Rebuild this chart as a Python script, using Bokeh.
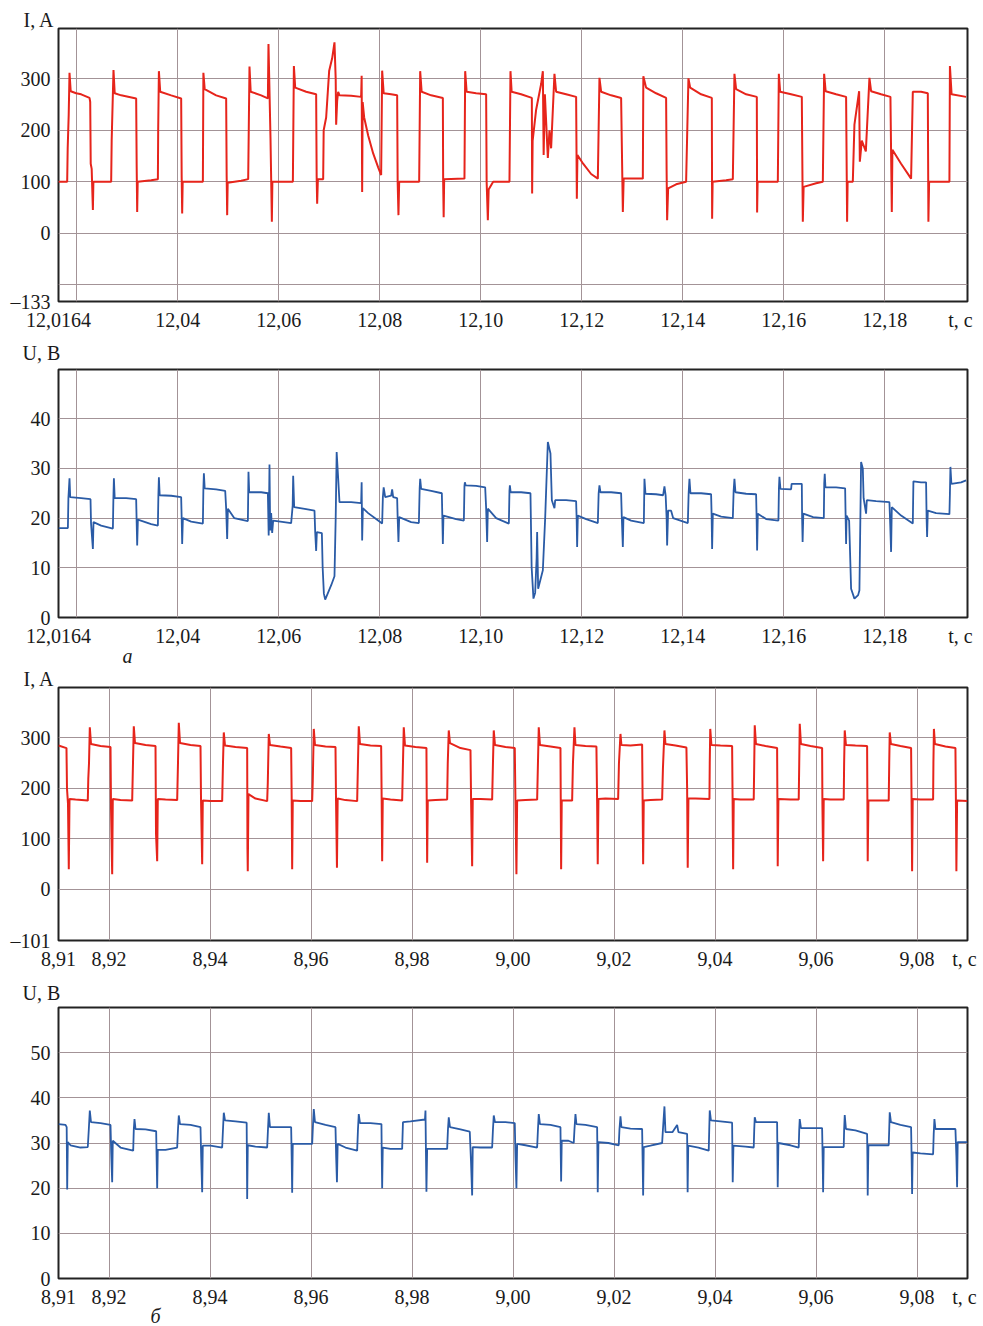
from bokeh.plotting import figure
from bokeh.layouts import column
from bokeh.models import FixedTicker, Range1d, Title
from bokeh.embed import file_html
from bokeh.resources import INLINE

FONT = "Liberation Serif"
RED = "#e6241b"
BLUE = "#2a5ba6"
GRID = "#a39397"

# ---------------- panel а: t from 12.0164 s (offsets in ms) ----------------
T0_A = 12.0164
x_ticks_a = [12.0164, 12.04, 12.06, 12.08, 12.10, 12.12, 12.14, 12.16, 12.18, 12.1950]
x_labels_a = ["12,0164", "12,04", "12,06", "12,08", "12,10", "12,12", "12,14", "12,16", "12,18", "t, c"]
x_grid_a = [12.02, 12.04, 12.06, 12.08, 12.10, 12.12, 12.14, 12.16, 12.18]

i_a_ms = [0, 1.72, 1.82, 2.02, 2.18, 2.42, 3.50, 4.49, 6.14, 6.28, 6.38, 6.57, 6.81, 6.91, 8.45,
          10.43, 10.53, 10.89, 11.13, 12.41, 15.38, 15.48, 15.58, 15.68, 18.35,
          19.68, 19.74, 19.88, 20.14, 22.31, 24.29, 24.39, 24.49, 24.59,
          28.59, 28.69, 28.95, 31.22, 33.20, 33.30, 33.40, 33.50, 36.17,
          37.56, 37.82, 38.06, 40.13, 41.46, 41.58, 41.98, 42.25, 42.35,
          46.41, 46.61, 46.87, 49.04, 51.02, 51.12, 51.22, 51.36, 52.41,
          52.51, 53.00, 53.60, 54.19, 54.65, 54.89, 54.98, 55.18, 55.38, 55.64, 57.95, 59.93,
          60.03, 60.13, 60.23, 60.53, 61.32, 62.31, 63.30, 63.89,
          64.09, 64.39, 65.87, 67.06, 67.16, 67.32, 67.46, 71.42,
          71.62, 71.91, 73.79, 76.11, 76.17, 76.27, 76.37, 80.39,
          80.53, 80.82, 82.70, 84.68, 84.78, 85.02, 85.18, 86.07, 89.30,
          89.50, 89.73, 91.61, 93.73, 93.79, 93.89, 94.58, 95.57, 95.91, 96.07, 96.31, 96.90, 97.22, 97.55,
          98.21, 98.54, 100.52, 102.50, 102.64, 102.76, 103.89, 105.47, 106.80,
          107.12, 107.45, 109.43, 111.41, 111.75, 111.91, 115.71,
          115.81, 116.36, 118.34, 120.32, 120.42, 120.52, 120.72, 122.30, 124.28,
          124.74, 125.08, 127.25, 129.37, 129.43, 129.53, 132.20,
          133.53, 133.85, 134.18, 136.16, 138.28, 138.34, 138.44, 142.44,
          142.64, 142.90, 145.07, 147.19, 147.39, 147.55, 150.02, 151.35,
          151.61, 151.91, 153.98, 155.96, 156.16, 156.26, 157.29,
          157.61, 158.54, 158.68, 159.07, 159.87, 160.58, 160.91, 162.89, 164.74,
          165.01, 165.13, 166.85, 168.83, 169.17, 170.81, 172.14, 172.26, 172.40, 176.42,
          176.52, 176.85, 179.72]
i_a_amp = [100, 100, 165, 230, 312, 276, 272, 270, 263, 255, 135, 125, 45, 100, 100,
           100, 180, 317, 272, 268, 262, 130, 41, 100, 103,
           105, 200, 315, 275, 268, 262, 110, 38, 100,
           100, 312, 280, 268, 262, 110, 35, 98, 102,
           105, 324, 275, 268, 262, 368, 185, 22, 100,
           100, 325, 283, 275, 270, 110, 57, 105, 105,
           200, 225, 316, 340, 371, 300, 211, 257, 275, 268, 267, 265,
           306, 80, 255, 225, 190, 155, 128, 113,
           316, 272, 270, 268, 100, 35, 100, 100,
           315, 275, 268, 263, 100, 31, 105, 106,
           315, 275, 272, 270, 100, 25, 85, 100, 100,
           315, 275, 270, 263, 77, 180, 240, 290, 315, 152, 270, 146, 200, 165,
           310, 275, 270, 265, 67, 152, 135, 115, 106,
           302, 275, 268, 263, 41, 106, 106,
           305, 283, 272, 263, 120, 25, 87, 95, 100,
           301, 283, 270, 263, 28, 100, 103,
           105, 310, 280, 270, 265, 40, 100, 100,
           310, 275, 270, 265, 22, 90, 97, 100,
           310, 276, 270, 265, 22, 100, 100,
           211, 276, 139, 180, 159, 302, 276, 270, 265,
           41, 162, 135, 106, 275, 275, 272, 22, 100, 100,
           325, 270, 265]

u_a_ms = [0, 1.86, 1.96, 2.18, 2.32, 4.49, 6.34, 6.44, 6.81, 6.93, 8.45,
          10.77, 10.87, 10.97, 11.13, 13.40, 15.38, 15.48, 15.58, 15.72, 18.35,
          19.68, 19.78, 19.88, 20.04, 22.31, 24.29, 24.39, 24.49, 24.63, 26.27,
          28.59, 28.69, 28.79, 28.95, 31.22, 33.01, 33.20, 33.40, 33.54, 34.79,
          37.50, 37.62, 37.76, 40.13, 41.46, 41.62, 41.78, 41.92, 42.11, 42.31, 42.51,
          46.07, 46.37, 46.47, 46.67, 49.04, 50.69, 50.83, 51.02, 51.16, 52.15,
          52.31, 52.55, 52.81, 54.00, 54.65, 54.89, 55.08, 55.38, 55.64, 57.95,
          59.93, 60.03, 60.13, 60.27, 61.32, 62.90, 64.09,
          64.23, 64.39, 64.69, 65.87, 66.07, 66.27, 67.06, 67.16, 67.32, 67.46, 69.83,
          71.36, 71.52, 71.62, 71.81, 73.79, 75.91, 76.01, 76.11, 76.23, 78.74,
          80.27, 80.39, 80.47, 80.63, 82.70, 84.49, 84.68, 84.88, 85.02, 86.66,
          89.18, 89.30, 89.38, 89.54, 91.61, 93.46, 93.69, 94.05, 94.39, 94.68, 94.78, 94.98, 95.91, 96.37,
          96.90, 97.42, 97.69, 98.21, 98.35,
          100.52, 102.50, 102.60, 102.70, 102.84, 104.48,
          106.80, 106.96, 107.12, 107.32, 109.43, 111.41, 111.55, 111.75, 111.87, 113.39,
          115.91, 116.03, 116.23, 118.34, 119.73, 119.99, 120.23, 120.42, 120.52, 120.72, 121.31, 121.71,
          124.62, 124.78, 124.94, 125.14, 127.25, 129.23, 129.33, 129.43, 129.57, 131.21,
          133.53, 133.69, 133.85, 134.05, 136.16, 138.14, 138.24, 138.34, 138.48, 140.12,
          142.56, 142.66, 142.76, 142.96, 145.07, 145.17, 147.19, 147.25, 147.35, 147.49, 149.43,
          151.55, 151.63, 151.73, 151.87, 153.98, 155.77, 155.87, 155.96, 156.06, 156.56,
          156.95, 157.61, 158.34, 158.60, 158.93, 159.27, 159.43, 159.92, 160.06, 161.90, 164.54,
          164.72, 164.87, 165.01, 166.85, 169.17, 169.29, 170.81, 171.80, 171.90, 172.00, 172.14, 173.78,
          176.42, 176.52, 176.62, 176.81, 178.73, 179.72]
u_a_volt = [18, 18, 24, 28, 24.2, 24, 23.8, 19, 13.8, 19.2, 18.5,
            17.9, 24, 28, 24, 24, 23.8, 19, 14.5, 19.7, 18.8,
            18.5, 24.6, 28.2, 24.6, 24.5, 24.2, 20, 14.8, 20, 19.3,
            18.9, 25.9, 29, 26, 25.8, 25.5, 21.9, 15.8, 21.9, 20,
            19.4, 29.3, 25.2, 25.2, 25, 16.5, 30.8, 17.5, 21, 17, 19.5,
            19, 22.5, 28.5, 22.2, 21.8, 21.5, 17.2, 13.4, 17.2, 17,
            10, 4.8, 3.6, 6.5, 8.3, 20, 33.3, 28, 23.2, 23.2,
            23, 27.2, 15.5, 22, 21, 19.8, 18.9,
            24.2, 26.2, 24.2, 24.5, 25.8, 24.2, 24, 20, 15.2, 20.2, 19.2,
            19, 26, 27.9, 25.9, 25.5, 25, 20, 14.8, 20.5, 19.8,
            19.5, 26.5, 27.2, 26.6, 26.5, 26.2, 22, 15.2, 21.9, 20,
            18.9, 25.5, 26.6, 25.2, 25.2, 25, 10.1, 3.8, 5, 12, 17.2, 5.8, 9.5, 20,
            35.3, 33, 23.6, 22, 23.6,
            23.6, 23.4, 20, 14.2, 20.5, 19.8,
            19, 25, 26.6, 25.2, 25.2, 25, 20, 14.2, 20.2, 19.5,
            19, 27.9, 24.9, 24.8, 24.6, 26.4, 24.5, 20, 14.5, 21.5, 21.5, 20,
            19, 25, 27.9, 25, 25, 24.8, 20.5, 13.8, 20.9, 20.3,
            20, 25.5, 27.9, 25.2, 24.9, 24.8, 20, 13.5, 20.9, 19.8,
            19.5, 26, 28.3, 25.9, 25.8, 26.9, 26.9, 20, 15.2, 20.9, 20.2,
            20, 27, 28.9, 26.2, 26.2, 26, 20, 14.8, 20.5, 19.5,
            5.8, 3.8, 4.5, 5.5, 31.3, 30, 24, 20.9, 23.6, 23.4, 23.2,
            18, 13.2, 22.2, 20.5, 18.9, 27.4, 27.2, 27.2, 20, 16.2, 21.5, 21,
            20.8, 25, 30.3, 26.9, 27.2, 27.6]

# ---------------- panel б: t from 8.91 s (offsets in ms) ----------------
T0_B = 8.91
x_ticks_b = [8.91, 8.92, 8.94, 8.96, 8.98, 9.00, 9.02, 9.04, 9.06, 9.08, 9.0894]
x_labels_b = ["8,91", "8,92", "8,94", "8,96", "8,98", "9,00", "9,02", "9,04", "9,06", "9,08", "t, c"]
x_grid_b = [8.92, 8.94, 8.96, 8.98, 9.00, 9.02, 9.04, 9.06, 9.08]

i_b_ms = [0, 1.58, 1.68, 1.88, 2.04, 2.18, 3.37, 5.80,
          5.90, 6.04, 6.20, 6.44, 8.32, 10.30, 10.40, 10.63, 10.75, 12.28, 14.59,
          14.75, 14.91, 15.15, 17.23, 19.21, 19.31, 19.54, 19.66, 21.19, 23.50,
          23.66, 23.82, 24.06, 26.14, 28.12, 28.22, 28.45, 28.57, 30.10, 32.41,
          32.57, 32.73, 32.97, 35.05, 37.36, 37.42, 37.48, 37.62, 39.01, 41.32,
          41.44, 41.64, 41.88, 43.96, 46.07, 46.17, 46.27, 46.39, 47.92, 50.23,
          50.35, 50.55, 50.79, 52.87, 54.85, 54.95, 55.14, 55.28, 56.83, 59.14,
          59.30, 59.46, 59.70, 61.78, 63.89, 63.99, 64.09, 64.21, 65.74, 68.05,
          68.21, 68.37, 68.61, 70.69, 72.86, 72.92, 73.00, 73.12, 74.65, 76.96,
          77.08, 77.28, 77.52, 79.60, 81.58, 81.71, 81.91, 82.03, 83.56, 85.87,
          86.03, 86.19, 86.43, 88.51, 90.35, 90.49, 90.68, 90.82, 92.47, 94.78,
          94.94, 95.10, 95.34, 97.42, 99.40, 99.46, 99.53, 99.65, 101.71,
          101.87, 102.17, 102.37, 104.35, 106.52, 106.66, 106.78, 106.92, 108.31, 110.82,
          110.98, 111.28, 111.47, 113.26, 115.57, 115.67, 115.77, 115.89, 117.22, 119.53,
          119.69, 119.99, 120.19, 122.17, 124.34, 124.48, 124.60, 124.74, 126.13, 128.90,
          128.96, 129.06, 129.29, 131.08, 133.39, 133.49, 133.59, 133.71, 135.04, 137.67,
          137.77, 137.87, 138.11, 139.99, 142.30, 142.36, 142.42, 142.56, 144.94, 146.58,
          146.68, 146.78, 147.02, 148.90, 151.21, 151.27, 151.41, 151.53, 152.86, 155.49,
          155.57, 155.69, 155.93, 157.81, 160.12, 160.18, 160.24, 160.38, 161.77, 164.40,
          164.50, 164.60, 164.84, 166.72, 168.83, 168.93, 169.03, 169.15, 170.68, 173.19,
          173.25, 173.35, 173.55, 175.63, 177.61, 177.71, 177.80, 177.94, 179.98]
i_b_amp = [285, 280, 200, 170, 40, 179, 178, 176,
           219, 250, 321, 288, 284, 282, 160, 30, 179, 177, 176,
           250, 323, 290, 286, 284, 110, 56, 179, 178, 177,
           250, 330, 290, 286, 284, 180, 50, 176, 175, 175,
           250, 311, 285, 282, 280, 80, 36, 189, 180, 175,
           210, 308, 286, 283, 280, 185, 40, 176, 175, 175,
           215, 318, 286, 283, 282, 180, 43, 180, 177, 175,
           250, 323, 288, 285, 284, 180, 56, 180, 178, 176,
           250, 321, 285, 282, 280, 170, 53, 176, 177, 178,
           250, 315, 290, 280, 276, 170, 46, 179, 179, 178,
           250, 315, 286, 282, 280, 170, 30, 176, 177, 178,
           250, 321, 286, 283, 280, 170, 40, 176, 176,
           250, 321, 286, 284, 283, 170, 50, 179, 180, 179,
           250, 308, 286, 285, 287, 170, 50, 176, 177, 178,
           240, 315, 288, 285, 281, 200, 43, 180, 180, 179,
           250, 318, 286, 285, 284, 170, 40, 179, 178, 178,
           250, 325, 288, 284, 280, 170, 46, 179, 178, 178,
           250, 328, 288, 284, 280, 170, 56, 179, 178, 178,
           250, 315, 286, 285, 284, 170, 56, 176, 176, 176,
           250, 311, 288, 284, 280, 170, 36, 179, 178, 178,
           250, 318, 288, 283, 280, 170, 36, 176, 175]

u_b_ms = [0, 1.39, 1.62, 1.72, 1.84, 2.38, 4.36, 5.80,
          6.00, 6.20, 6.44, 8.32, 10.30, 10.43, 10.63, 10.75, 12.28, 14.79,
          14.91, 15.05, 15.25, 17.23, 19.34, 19.44, 19.54, 19.66, 21.19, 23.50,
          23.66, 23.82, 24.06, 26.14, 28.12, 28.25, 28.45, 28.57, 30.10, 32.41,
          32.57, 32.73, 32.97, 35.05, 37.26, 37.36, 37.48, 39.01, 41.32,
          41.48, 41.64, 41.88, 43.96, 46.07, 46.17, 46.27, 46.39, 47.92, 50.23,
          50.39, 50.55, 50.79, 52.87, 54.85, 54.98, 55.14, 55.28, 56.83, 59.14,
          59.30, 59.46, 59.70, 61.78, 63.95, 64.01, 64.09, 64.21, 65.74, 68.05,
          68.21, 69.70, 72.57, 72.67, 72.77, 72.86, 73.00, 74.65, 76.96,
          77.12, 77.28, 77.52, 79.60, 81.44, 81.68, 81.91, 82.03, 83.56, 85.87,
          86.03, 86.19, 86.43, 88.51, 90.35, 90.49, 90.68, 90.82, 92.47, 94.78,
          94.94, 95.10, 95.34, 97.42, 99.40, 99.46, 99.53, 99.65, 100.98, 102.03,
          102.17, 102.37, 102.56, 104.35, 106.66, 106.72, 106.78, 106.92, 108.90, 110.94,
          111.08, 111.28, 111.47, 113.26, 115.57, 115.67, 115.77, 115.89, 117.22, 119.53,
          119.69, 119.99, 120.19, 121.57, 122.50, 122.76, 124.48, 124.58, 124.70, 126.72, 128.76,
          128.86, 128.96, 129.20, 131.08, 133.39, 133.45, 133.51, 133.65, 136.03, 137.67,
          137.77, 137.87, 138.11, 139.99, 142.30, 142.36, 142.42, 142.56, 144.94, 146.58,
          146.68, 146.78, 147.02, 148.90, 151.21, 151.31, 151.41, 151.53, 153.85, 155.49,
          155.57, 155.69, 155.93, 157.81, 160.12, 160.18, 160.24, 160.38, 162.36, 164.40,
          164.50, 164.60, 164.84, 166.72, 168.83, 168.93, 169.03, 169.15, 170.68, 173.19,
          173.31, 173.45, 173.65, 175.63, 177.61, 177.80, 177.94, 178.06, 179.98]
u_b_volt = [34.2, 34, 33.5, 19.7, 30.2, 29.5, 29, 29.1,
            33, 37.2, 34.6, 34.4, 34, 28, 21.3, 30.5, 29, 28.3,
            33, 35.3, 33.1, 33, 32.6, 26, 20, 28.5, 28.5, 29,
            33, 36.1, 34.2, 34, 33.5, 27, 19.1, 29.4, 29.4, 29,
            33, 36.7, 35, 34.8, 34.5, 17.6, 29.5, 29.2, 29,
            33, 36.7, 33.5, 33.5, 33.5, 27, 19, 29.8, 29.8, 29.8,
            34, 37.5, 34.6, 34, 33.5, 27, 21.3, 29.8, 29, 28.3,
            33, 36.4, 34.4, 34.4, 34.2, 27, 20, 29, 28.7, 28.7,
            34.6, 34.8, 35.2, 37.2, 27, 19.2, 28.7, 28.7, 28.7,
            33, 35.7, 33.5, 33, 32.5, 26, 18.4, 29.1, 29, 29,
            33, 36.1, 34.6, 34.6, 34.4, 27, 20, 29.8, 29.5, 29,
            33, 36.4, 34.2, 34, 33.5, 27, 21.5, 30.5, 30.5, 30,
            33, 36.4, 34.2, 34, 33.5, 27, 19.1, 30.2, 30, 29.5,
            33, 35.9, 33.5, 33.2, 33.1, 26, 18.4, 29.1, 29.4, 30,
            33, 38.1, 32.4, 32.4, 34, 32.4, 32, 19.1, 29.4, 29, 28.3,
            33, 37.2, 35, 34.8, 34.5, 27, 21.3, 29.4, 29.2, 29,
            33, 35.7, 34.6, 34.6, 34.6, 27, 20.2, 30, 29.5, 29,
            33, 35.3, 33.3, 33.3, 33.3, 27, 19.1, 29.1, 29.1, 29.1,
            33, 36.2, 33.1, 32.8, 32, 27, 18.4, 29.5, 29.5, 29.5,
            33, 36.8, 34.6, 34, 33.5, 27, 18.7, 27.9, 27.7, 27.5,
            32, 35.3, 33.1, 33.1, 33.1, 27, 20.2, 30.2, 30.2]

y_ticks_i_a = [-133, 0, 100, 200, 300]
y_labels_i_a = ["\u2013133", "0", "100", "200", "300"]
y_grid_i_a = [-100, 0, 100, 200, 300]
y_ticks_u_a = [0, 10, 20, 30, 40]
y_grid_u_a = [10, 20, 30, 40]
y_ticks_i_b = [-101, 0, 100, 200, 300]
y_labels_i_b = ["\u2013101", "0", "100", "200", "300"]
y_grid_i_b = [0, 100, 200, 300]
y_ticks_u_b = [0, 10, 20, 30, 40, 50]
y_grid_u_b = [10, 20, 30, 40, 50]


def add_title(p, text, side, offset, standoff, italic=False):
    p.add_layout(Title(text=text, align="left", offset=offset, standoff=standoff,
                       text_font=FONT, text_font_size="20px", text_color="#1a1a1a",
                       text_font_style="italic" if italic else "normal"), side)


def make_fig(x0, yr, fh, top, bottom, xt, xl, xg, yt, yl, yg, qty_text, q_off, q_stand):
    p = figure(width=983, height=top + fh + bottom, title=None,
               x_range=Range1d(x0, x0 + 0.18), y_range=Range1d(*yr),
               output_backend="svg", toolbar_location=None,
               min_border_left=58, min_border_right=16,
               min_border_top=top, min_border_bottom=bottom)
    p.outline_line_color = "#222222"
    p.outline_line_width = 2
    p.background_fill_color = "white"
    for ax in (p.xaxis[0], p.yaxis[0]):
        ax.axis_line_color = None
        ax.major_tick_line_color = None
        ax.minor_tick_line_color = None
        ax.major_tick_out = 0
        ax.major_tick_in = 0
        ax.minor_tick_out = 0
        ax.minor_tick_in = 0
        ax.major_label_text_font = FONT
        ax.major_label_text_font_size = "20px"
        ax.major_label_text_color = "#1a1a1a"
    p.xaxis.ticker = FixedTicker(ticks=xt)
    p.xaxis.major_label_overrides = dict(zip(xt, xl))
    p.xaxis.major_label_standoff = 7
    p.yaxis.ticker = FixedTicker(ticks=yt)
    p.yaxis.major_label_overrides = dict(zip(yt, yl))
    p.yaxis.major_label_standoff = 8
    p.xgrid.ticker = FixedTicker(ticks=xg)
    p.ygrid.ticker = FixedTicker(ticks=yg)
    for g in (p.xgrid[0], p.ygrid[0]):
        g.grid_line_color = GRID
        g.grid_line_width = 1
    add_title(p, qty_text, "above", q_off, q_stand)
    return p


ta_i = [T0_A + v / 1000.0 for v in i_a_ms]
ta_u = [T0_A + v / 1000.0 for v in u_a_ms]
tb_i = [T0_B + v / 1000.0 for v in i_b_ms]
tb_u = [T0_B + v / 1000.0 for v in u_b_ms]

p1 = make_fig(T0_A, (-133, 398), 273, 28, 32, x_ticks_a, x_labels_a, x_grid_a,
              y_ticks_i_a, y_labels_i_a, y_grid_i_a, "I, A", -35, -4)
p1.line(ta_i, i_a_amp, line_color=RED, line_width=2.0)

p2 = make_fig(T0_A, (0, 49.9), 248, 36, 50, x_ticks_a, x_labels_a, x_grid_a,
              y_ticks_u_a, [str(v) for v in y_ticks_u_a], y_grid_u_a, "U, B", -36, 12)
p2.line(ta_u, u_a_volt, line_color=BLUE, line_width=1.8)
add_title(p2, "а", "below", 64, -14, italic=True)

p3 = make_fig(T0_B, (-101, 400), 253, 20, 35, x_ticks_b, x_labels_b, x_grid_b,
              y_ticks_i_b, y_labels_i_b, y_grid_i_b, "I, A", -35, -4)
p3.line(tb_i, i_b_amp, line_color=RED, line_width=2.0)

p4 = make_fig(T0_B, (0, 60), 271, 32, 48, x_ticks_b, x_labels_b, x_grid_b,
              y_ticks_u_b, [str(v) for v in y_ticks_u_b], y_grid_u_b, "U, B", -36, 8)
p4.line(tb_u, u_b_volt, line_color=BLUE, line_width=1.8)
add_title(p4, "б", "below", 92, -16, italic=True)

layout = column(p1, p2, p3, p4, spacing=0)
open("out.html", "w").write(file_html(layout, INLINE))
